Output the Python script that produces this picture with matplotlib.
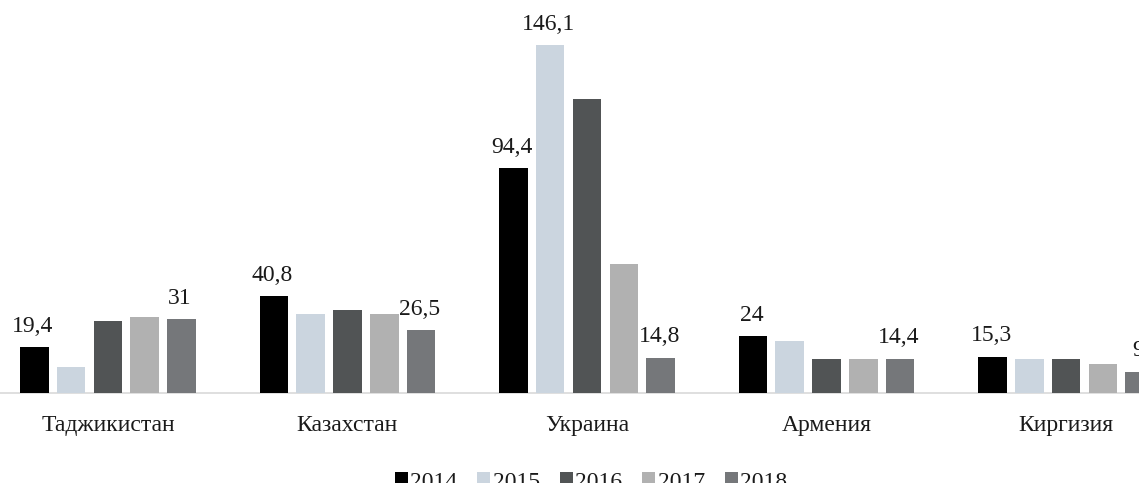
import matplotlib
matplotlib.use("Agg")
import matplotlib.pyplot as plt
from matplotlib.patches import Patch
import numpy as np

countries = ["Таджикистан", "Казахстан", "Украина", "Армения", "Киргизия"]
years = ["2014", "2015", "2016", "2017", "2018"]
v2014 = [19.4, 40.8, 94.4, 24.0, 15.3]
v2015 = [10.9, 33.0, 146.1, 21.7, 14.4]
v2016 = [30.4, 34.7, 123.4, 14.4, 14.4]
v2017 = [31.9, 33.0, 54.0, 14.4, 12.0]
v2018 = [31.0, 26.5, 14.8, 14.4, 9.0]
series = [v2014, v2015, v2016, v2017, v2018]
# which bars carry a value label (country index, year index) -> text
labels = {
    (0, 0): "19,4", (0, 4): "31",
    (1, 0): "40,8", (1, 4): "26,5",
    (2, 0): "94,4", (2, 1): "146,1", (2, 4): "14,8",
    (3, 0): "24", (3, 4): "14,4",
    (4, 0): "15,3", (4, 4): "9",
}
colors = ["#000000", "#cbd5df", "#515455", "#b1b1b1", "#75777a"]

plt.rcParams["font.family"] = ["Liberation Serif", "DejaVu Serif"]
W, H = 1139, 483
fig = plt.figure(figsize=(W / 100, H / 100), dpi=100)
ax_left = -11.8 / W
ax_w = 1197.6 / W
ax_bottom = (H - 393) / H
ax_h = 373 / H
ax = fig.add_axes([ax_left, ax_bottom, ax_w, ax_h])

x = np.arange(len(countries))
pitch = 0.1536
bw = 0.119
for j, vals in enumerate(series):
    pos = x + (j - 2) * pitch
    ax.bar(pos, vals, width=bw, color=colors[j], zorder=3, linewidth=0)
    for i, v in enumerate(vals):
        if (i, j) in labels:
            ax.annotate(labels[(i, j)], xy=(pos[i], v), xytext=(-1, 11),
                        textcoords="offset points", ha="center", va="baseline",
                        fontsize=17, color="#1a1a1a", annotation_clip=False)

ax.set_xlim(-0.5, 4.5)
ax.set_ylim(0, 156.6)
for s in ["top", "right", "left"]:
    ax.spines[s].set_visible(False)
ax.spines["bottom"].set_color("#d9d9d9")
ax.spines["bottom"].set_linewidth(1.2)
ax.set_yticks([])
ax.set_xticks([])
for i, c in enumerate(countries):
    ax.annotate(c, xy=(i, 0), xycoords=("data", "axes fraction"),
                xytext=(0, -27.4), textcoords="offset points",
                ha="center", va="baseline", fontsize=17, color="#1a1a1a",
                annotation_clip=False)

handles = [Patch(facecolor=colors[j], edgecolor="none", label=years[j]) for j in range(5)]
fig.legend(handles=handles, loc="lower center", ncol=5, frameon=False,
           bbox_to_anchor=(591 / W, -0.02), fontsize=17,
           handlelength=0.55, handleheight=0.55, handletextpad=0.1,
           columnspacing=0.85, borderpad=0, borderaxespad=0,
           labelcolor="#1a1a1a")

fig.savefig("out.png", dpi=100)
